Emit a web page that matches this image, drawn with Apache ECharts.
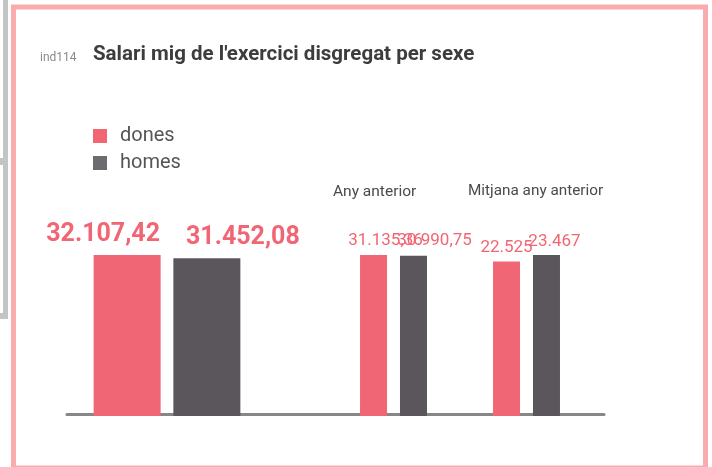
<!DOCTYPE html>
<html>
<head>
<meta charset="utf-8">
<script src="https://cdn.jsdelivr.net/npm/echarts@6/dist/echarts.min.js"></script>
<style>
  html, body { margin: 0; padding: 0; background: #fff; }
  #main { width: 712px; height: 467px; }
</style>
</head>
<body>
<div id="main"></div>
<script>
// dades
var sexes = ['dones', 'homes'];
var actual = [32107.42, 31452.08];          // exercici
var anyAnterior = [31135.36, 30990.75];     // any anterior
var mitjanaAnterior = [22525, 23467];       // mitjana any anterior
var groupTitles = ['Any anterior', 'Mitjana any anterior'];
var indicador = 'ind114';
var titol = "Salari mig de l'exercici disgregat per sexe";

var PINK = '#F06674';
var GREY = '#5A565C';

// format català: 32.107,42
function fmt(v) {
    var s = Number.isInteger(v) ? String(v) : v.toFixed(2);
    var parts = s.split('.');
    var ent = parts[0].replace(/\B(?=(\d{3})+(?!\d))/g, '.');
    return parts.length > 1 ? ent + ',' + parts[1] : ent;
}

var myChart = echarts.init(document.getElementById('main'));

// una graella per grup, cadascuna amb la seva escala
var grids = [
    { left: 67, width: 200, top: 255, bottom: 51 },
    { left: 327, width: 133, top: 255, bottom: 51 },
    { left: 460, width: 133, top: 255, bottom: 51 },
    { left: 67, width: 537, top: 255, bottom: 52.5 } // línia de l'eix
];

var groups = [
    { values: actual, barWidth: 67, barGap: '19%', font: { fontSize: 25, fontWeight: 'bold' }, offsets: [[-24, 0], [36, 0]], distance: 8 },
    { values: anyAnterior, barWidth: 27, barGap: '48%', font: { fontSize: 17 }, offsets: [[12, 0], [21, 0]], distance: 6 },
    { values: mitjanaAnterior, barWidth: 27, barGap: '48%', font: { fontSize: 17 }, offsets: [[0, 0], [8, 0]], distance: 5 }
];

var xAxes = [], yAxes = [], series = [];
groups.forEach(function(g, gi) {
    xAxes.push({ type: 'category', gridIndex: gi, data: [''], show: false });
    yAxes.push({ type: 'value', gridIndex: gi, min: 0, max: 'dataMax', show: false });
    sexes.forEach(function(sex, si) {
        series.push({
            name: sex,
            type: 'bar',
            xAxisIndex: gi,
            yAxisIndex: gi,
            barWidth: g.barWidth,
            barGap: g.barGap,
            z: 3,
            itemStyle: { color: si === 0 ? PINK : GREY },
            label: {
                show: true,
                position: 'top',
                distance: g.distance,
                offset: g.offsets[si],
                color: PINK,
                fontFamily: 'Roboto',
                fontSize: g.font.fontSize,
                fontWeight: g.font.fontWeight || 'normal',
                formatter: function(p) { return fmt(p.value); }
            },
            data: [g.values[si]]
        });
    });
});
// eix horitzontal comú
xAxes.push({
    type: 'category', gridIndex: 3, data: [''],
    axisLine: { show: true, lineStyle: { color: '#878787', width: 3 } },
    axisTick: { show: false }, axisLabel: { show: false }
});
yAxes.push({ type: 'value', gridIndex: 3, show: false });

var option = {
    animation: false,
    backgroundColor: '#fff',
    title: [{
        text: indicador, left: 35, top: 47,
        textStyle: { fontSize: 12, fontWeight: 'normal', color: '#8a8a8a', fontFamily: 'Roboto' }
    }, {
        text: titol, left: 88, top: 39,
        textStyle: { fontSize: 20.5, fontWeight: 'bold', color: '#3d3d3d', fontFamily: 'Roboto' }
    }, {
        text: groupTitles[0], left: 328, top: 179,
        textStyle: { fontSize: 15.5, fontWeight: 'normal', color: '#4a4a4a', fontFamily: 'Roboto' }
    }, {
        text: groupTitles[1], left: 463, top: 179,
        textStyle: { fontSize: 15.3, fontWeight: 'normal', color: '#4a4a4a', fontFamily: 'Roboto' }
    }],
    legend: {
        orient: 'vertical',
        left: 88, top: 121,
        itemWidth: 14, itemHeight: 14, itemGap: 7,
        icon: 'rect',
        textStyle: { fontSize: 20, color: '#555', fontFamily: 'Roboto', padding: [0, 0, 0, 8] },
        data: [
            { name: sexes[0], itemStyle: { color: PINK } },
            { name: sexes[1], itemStyle: { color: '#6C6B70' } }
        ]
    },
    grid: grids,
    xAxis: xAxes,
    yAxis: yAxes,
    series: series,
    // marcs de la targeta
    graphic: [
        { type: 'rect', shape: { x: 13.5, y: 7, width: 692, height: 461 }, style: { fill: 'none', stroke: '#F9ABAE', lineWidth: 5 }, silent: true },
        { type: 'rect', shape: { x: 3, y: 0, width: 5, height: 319 }, style: { fill: '#C4C4C4' }, silent: true },
        { type: 'rect', shape: { x: 0, y: 158, width: 8, height: 7 }, style: { fill: '#C4C4C4' }, silent: true },
        { type: 'rect', shape: { x: 0, y: 313, width: 8, height: 6 }, style: { fill: '#C4C4C4' }, silent: true }
    ]
};
myChart.setOption(option);
</script>
</body>
</html>
